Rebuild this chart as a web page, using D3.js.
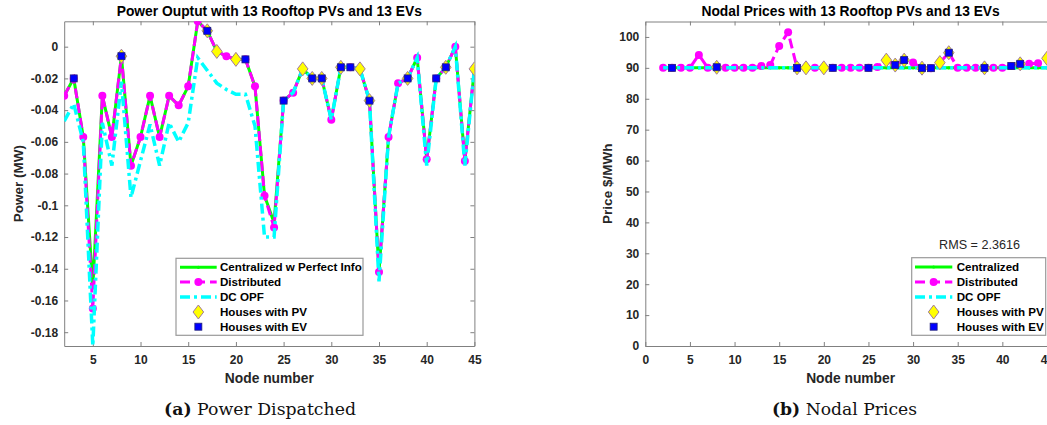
<!DOCTYPE html>
<html>
<head>
<meta charset="utf-8">
<script src="https://cdn.jsdelivr.net/npm/d3@7"></script>
<style>
  body { margin: 0; background: #fff; }
  svg { display: block; font-family: "Liberation Sans", Arial, sans-serif; }
</style>
</head>
<body>
<svg id="fig" width="1047" height="425"></svg>
<script>
// ---- data: feeder nodes 2..45 ----
const nodes = [2,3,4,5,6,7,8,9,10,11,12,13,14,15,16,17,18,19,20,21,22,23,
               24,25,26,27,28,29,30,31,32,33,34,35,36,37,38,39,40,41,42,43,44,45];

// power dispatched (MW)
const powerCentral = [-0.031,-0.020,-0.057,-0.152,-0.031,-0.057,-0.006,-0.075,-0.057,-0.031,-0.057,
                      -0.031,-0.037,-0.025,0.016,0.010,-0.003,-0.006,-0.008,-0.008,-0.025,-0.094,
                      -0.111,-0.034,-0.029,-0.014,-0.020,-0.020,-0.046,-0.013,-0.013,-0.014,-0.034,
                      -0.142,-0.057,-0.023,-0.020,-0.007,-0.071,-0.020,-0.013,0.000,-0.072,-0.014];
const powerDistributed = [-0.031,-0.020,-0.057,-0.165,-0.031,-0.057,-0.006,-0.075,-0.057,-0.031,-0.057,
                      -0.031,-0.037,-0.025,0.016,0.010,-0.003,-0.006,-0.008,-0.008,-0.025,-0.094,
                      -0.114,-0.034,-0.029,-0.014,-0.020,-0.020,-0.046,-0.013,-0.013,-0.014,-0.034,
                      -0.142,-0.057,-0.023,-0.020,-0.007,-0.071,-0.020,-0.013,0.000,-0.072,-0.014];
const powerDcOpf = [-0.047,-0.036,-0.060,-0.1887,-0.048,-0.075,-0.022,-0.095,-0.072,-0.049,-0.075,
                      -0.048,-0.060,-0.048,-0.007,-0.015,-0.023,-0.027,-0.030,-0.030,-0.050,-0.120,
                      -0.120,-0.034,-0.029,-0.014,-0.020,-0.020,-0.046,-0.013,-0.013,-0.014,-0.034,
                      -0.148,-0.057,-0.023,-0.020,-0.007,-0.075,-0.020,-0.013,0.000,-0.075,-0.014];

// nodal prices ($/MWh)
const priceCentral = [90,90,90,90,90,90,90,90,90,90,90,90,90,90,90,90,90,90,90,90,90,90,
                      90,90,90,90,90,90,90,90,90,90,90,90,90,90,90,90,90,90,90,90,90,90];
const priceDistributed = [90,90,90,90,94.2,90,90.2,90,90,90,90,90.6,90.9,97.1,101.5,90,90,90,90,90,90,90,
                      90,90,90.3,92.5,90.9,92.5,91.7,89.9,89.9,91.7,94.9,90,90,90,90,90,90,90.6,91.3,91.3,91.5,93.1];
const priceDcOpf = [90,90,90,90,90,90,90,90,90,90,90,90,90,90,90,90,90,90,90,90,90,90,
                      90,90,90,90,90,90,90,90,90,90,90,90,90,90,90,90,90,90,90,90,90,90];

const pvNodes = [8,17,18,20,27,28,29,31,33,34,38,42,45];
const evNodes = [3,8,17,21,25,28,29,31,32,34,38,41,42];

const powerTicks = [-0.18,-0.16,-0.14,-0.12,-0.1,-0.08,-0.06,-0.04,-0.02,0];
const priceTicks = [0,10,20,30,40,50,60,70,80,90,100];
const nodeTicksA = [5,10,15,20,25,30,35,40,45];
const nodeTicksB = [0,5,10,15,20,25,30,35,40,45];
const rmsValue = 2.3616;

// ---- styling ----
const C_GREEN = "#00ff00", C_MAG = "#ff00ff", C_CYAN = "#00ffff";
const C_PV = "#ffff00", C_PV_EDGE = "#a07a9a", C_EV = "#0000ff", C_EV_EDGE = "#20207a";
const AX = "#808080", TXT = "#262626";

const svg = d3.select("#fig");

function diamondPath(cx, cy, hw, hh) {
  return `M${cx},${cy - hh}L${cx + hw},${cy}L${cx},${cy + hh}L${cx - hw},${cy}Z`;
}

function drawPanel(cfg) {
  const g = svg.append("g");
  const x = d3.scaleLinear().domain(cfg.xDomain).range([cfg.left, cfg.right]);
  const y = d3.scaleLinear().domain(cfg.yDomain).range([cfg.bottom, cfg.top]);

  const clipId = "clip-" + cfg.id;
  svg.append("clipPath").attr("id", clipId)
    .append("rect").attr("x", cfg.left).attr("y", cfg.top)
    .attr("width", cfg.right - cfg.left).attr("height", cfg.bottom - cfg.top);

  // axes with inward ticks on all four sides
  const styleAxis = sel => {
    sel.selectAll("path.domain").attr("stroke", AX).attr("stroke-width", 1);
    sel.selectAll(".tick line").attr("stroke", AX);
    sel.selectAll(".tick text").attr("fill", TXT).attr("font-weight", "bold")
      .attr("font-size", 12).attr("font-family", "Liberation Sans, Arial, sans-serif");
  };
  g.append("g").attr("transform", `translate(0,${cfg.bottom})`)
    .call(d3.axisBottom(x).tickValues(cfg.xTicks).tickSizeInner(-4).tickSizeOuter(0).tickPadding(9)
      .tickFormat(d => String(d))).call(styleAxis);
  g.append("g").attr("transform", `translate(0,${cfg.top})`)
    .call(d3.axisTop(x).tickValues(cfg.xTicks).tickSizeInner(-4).tickSizeOuter(0).tickFormat(""))
    .call(styleAxis);
  g.append("g").attr("transform", `translate(${cfg.left},0)`)
    .call(d3.axisLeft(y).tickValues(cfg.yTicks).tickSizeInner(-4).tickSizeOuter(0).tickPadding(6)
      .tickFormat(d => String(d))).call(styleAxis);
  g.append("g").attr("transform", `translate(${cfg.right},0)`)
    .call(d3.axisRight(y).tickValues(cfg.yTicks).tickSizeInner(-4).tickSizeOuter(0).tickFormat(""))
    .call(styleAxis);

  const plot = g.append("g").attr("clip-path", `url(#${clipId})`);
  const rows = vals => nodes.map((n, i) => ({ n, v: vals[i] }));
  const line = d3.line().x(d => x(d.n)).y(d => y(d.v));

  // centralized: solid green with point markers
  plot.append("path").datum(rows(cfg.central)).attr("d", line)
    .attr("fill", "none").attr("stroke", C_GREEN).attr("stroke-width", 3);
  plot.append("g").selectAll("circle").data(rows(cfg.central)).join("circle")
    .attr("cx", d => x(d.n)).attr("cy", d => y(d.v)).attr("r", 1.6).attr("fill", C_GREEN);

  // distributed: dashed magenta with circle markers
  plot.append("path").datum(rows(cfg.distributed)).attr("d", line)
    .attr("fill", "none").attr("stroke", C_MAG).attr("stroke-width", 3)
    .attr("stroke-dasharray", "10,5");
  plot.append("g").selectAll("circle").data(rows(cfg.distributed)).join("circle")
    .attr("cx", d => x(d.n)).attr("cy", d => y(d.v)).attr("r", 4).attr("fill", C_MAG);

  // DC OPF: dash-dot cyan
  plot.append("path").datum(rows(cfg.dc)).attr("d", line)
    .attr("fill", "none").attr("stroke", C_CYAN).attr("stroke-width", 3.5)
    .attr("stroke-dasharray", "10,4,3,4");

  // houses with PV / EV, placed on the distributed solution
  const valAt = n => cfg.distributed[nodes.indexOf(n)];
  plot.append("g").selectAll("path").data(pvNodes).join("path")
    .attr("d", n => diamondPath(x(n), y(valAt(n)), 5.3, 7))
    .attr("fill", C_PV).attr("stroke", C_PV_EDGE).attr("stroke-width", 1);
  plot.append("g").selectAll("rect").data(evNodes).join("rect")
    .attr("x", n => x(n) - 3.5).attr("y", n => y(valAt(n)) - 3.5)
    .attr("width", 7).attr("height", 7)
    .attr("fill", C_EV).attr("stroke", C_EV_EDGE).attr("stroke-width", 0.8);

  // titles and axis labels
  const cx = (cfg.left + cfg.right) / 2;
  g.append("text").attr("x", cx).attr("y", 16).attr("text-anchor", "middle")
    .attr("font-weight", "bold").attr("font-size", 13.8).attr("fill", "#000").text(cfg.title);
  g.append("text").attr("x", cx).attr("y", 383).attr("text-anchor", "middle")
    .attr("font-weight", "bold").attr("font-size", 13.8).attr("fill", TXT).text("Node number");
  g.append("text").attr("transform", `translate(${cfg.yLabelX},${(cfg.top + cfg.bottom) / 2}) rotate(-90)`)
    .attr("dy", "0.35em").attr("text-anchor", "middle")
    .attr("font-weight", "bold").attr("font-size", 13.5).attr("fill", TXT).text(cfg.yLabel);

  // legend
  const L = cfg.legend;
  const lg = g.append("g");
  lg.append("rect").attr("x", L.x0).attr("y", L.y0).attr("width", L.x1 - L.x0).attr("height", L.y1 - L.y0)
    .attr("fill", "#fff").attr("stroke", "#9a9a9a").attr("stroke-width", 1.2);
  const mx = (L.lx0 + L.lx1) / 2;
  L.labels.forEach((lab, i) => {
    const ry = L.rowY[i];
    if (i === 0) {
      lg.append("line").attr("x1", L.lx0).attr("x2", L.lx1).attr("y1", ry).attr("y2", ry)
        .attr("stroke", C_GREEN).attr("stroke-width", 3);
      lg.append("circle").attr("cx", mx).attr("cy", ry).attr("r", 1.6).attr("fill", C_GREEN);
    } else if (i === 1) {
      lg.append("line").attr("x1", L.lx0).attr("x2", L.lx1).attr("y1", ry).attr("y2", ry)
        .attr("stroke", C_MAG).attr("stroke-width", 3).attr("stroke-dasharray", "10,5");
      lg.append("circle").attr("cx", mx).attr("cy", ry).attr("r", 4).attr("fill", C_MAG);
    } else if (i === 2) {
      lg.append("line").attr("x1", L.lx0).attr("x2", L.lx1).attr("y1", ry).attr("y2", ry)
        .attr("stroke", C_CYAN).attr("stroke-width", 3.5).attr("stroke-dasharray", "10,4,3,4");
    } else if (i === 3) {
      lg.append("path").attr("d", diamondPath(mx, ry, 5.3, 7))
        .attr("fill", C_PV).attr("stroke", C_PV_EDGE).attr("stroke-width", 1);
    } else {
      lg.append("rect").attr("x", mx - 3.5).attr("y", ry - 3.5).attr("width", 7).attr("height", 7)
        .attr("fill", C_EV).attr("stroke", C_EV_EDGE).attr("stroke-width", 0.8);
    }
    lg.append("text").attr("x", L.tx).attr("y", ry).attr("dy", "0.35em")
      .attr("font-weight", "bold").attr("font-size", 11.6).attr("fill", "#000").text(lab);
  });
  return { x, y, g };
}

drawPanel({
  id: "a", left: 64.2, right: 474.4, top: 21.3, bottom: 346,
  xDomain: [2, 45], yDomain: [-0.1887, 0.016],
  xTicks: nodeTicksA, yTicks: powerTicks,
  central: powerCentral, distributed: powerDistributed, dc: powerDcOpf,
  title: "Power Ouptut with 13 Rooftop PVs and 13 EVs",
  yLabel: "Power (MW)", yLabelX: 18.5,
  legend: { x0: 176, x1: 363, y0: 258.3, y1: 335.3, lx0: 180, lx1: 216.7, tx: 220,
            rowY: [267.3, 282, 297, 312, 326.7],
            labels: ["Centralized w Perfect Info", "Distributed", "DC OPF", "Houses with PV", "Houses with EV"] }
});

const right = drawPanel({
  id: "b", left: 645.3, right: 1055.9, top: 21.5, bottom: 346,
  xDomain: [0, 46], yDomain: [0, 105],
  xTicks: nodeTicksB, yTicks: priceTicks,
  central: priceCentral, distributed: priceDistributed, dc: priceDcOpf,
  title: "Nodal Prices with 13 Rooftop PVs and 13 EVs",
  yLabel: "Price $/MWh", yLabelX: 607,
  legend: { x0: 911.7, x1: 1045.7, y0: 257.7, y1: 335.3, lx0: 915, lx1: 952.3, tx: 956.7,
            rowY: [267, 282, 297, 312, 326.7],
            labels: ["Centralized", "Distributed", "DC OPF", "Houses with PV", "Houses with EV"] }
});

right.g.append("text").attr("x", 979.5).attr("y", 249).attr("text-anchor", "middle")
  .attr("font-size", 12.6).attr("fill", TXT).text("RMS = " + rmsValue);

// sub-figure captions
function caption(cx, tag, label, width) {
  const t = svg.append("text").attr("x", cx).attr("y", 415).attr("text-anchor", "middle")
    .attr("font-family", "DejaVu Serif, Liberation Serif, serif").attr("font-size", 16.5)
    .attr("fill", "#111").attr("textLength", width).attr("lengthAdjust", "spacingAndGlyphs");
  t.append("tspan").attr("font-weight", "bold").text(tag);
  t.append("tspan").text(" " + label);
}
caption(260, "(a)", "Power Dispatched", 192);
caption(844.5, "(b)", "Nodal Prices", 145);
</script>
</body>
</html>
